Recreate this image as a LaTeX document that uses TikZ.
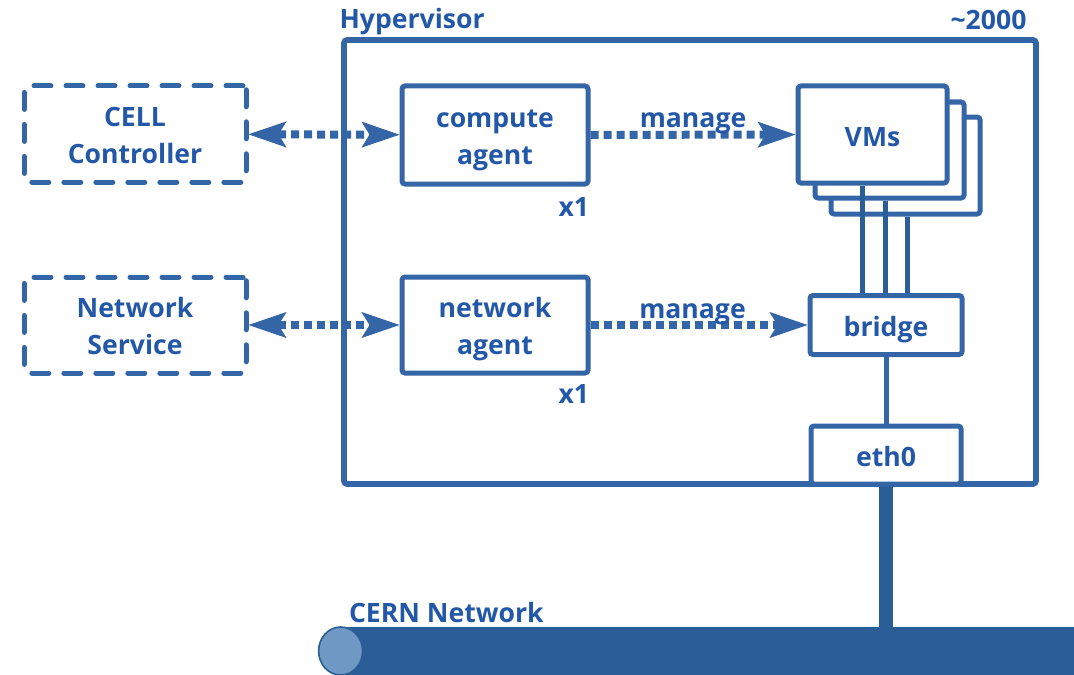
\documentclass[tikz,border=0pt]{standalone}
\usepackage{fontspec}
\setmainfont{Open Sans}
\usetikzlibrary{arrows.meta, positioning, calc}

\definecolor{boxblue}{HTML}{3465A6}
\definecolor{txtblue}{HTML}{2358A8}
\definecolor{netblue}{HTML}{2B5E96}
\definecolor{capblue}{HTML}{7098C4}

\begin{document}
\begin{tikzpicture}[
  x=0.5pt, y=-0.5pt,
  every node/.style={font=\fontsize{13.3}{18.4}\selectfont\bfseries, text=txtblue},
  box/.style={
    draw=boxblue,
    line width=2.5pt,
    rounded corners=1.5pt,
    fill=white,
    align=center,
    inner sep=0pt,
    text height=13.3pt,
    text depth=1.6pt
  },
  twoline/.style={text height=32.5pt, text depth=3.5pt},
  remote/.style={
    box,
    dash pattern=on 8.5pt off 7.5pt,
    line cap=round
  },
  lbl/.style={inner sep=0pt},
  link/.style={
    draw=boxblue,
    line width=4pt,
    dash pattern=on 4pt off 2.5pt
  },
  wire/.style={draw=netblue, line width=2.5pt},
  >={Stealth[length=19pt, width=13pt, inset=4pt, line width=0.5pt]}
]

\useasboundingbox (0,0) rectangle (1074,674);

% ------------------------------------------------------------
% Hypervisor frame
% ------------------------------------------------------------

\node[box, fill=none, line width=2.8pt, minimum width=346pt, minimum height=222pt] (hyper) at (690,262) {};
\node[lbl, anchor=base west] (hyperlbl) at ([xshift=-1pt, yshift=4.5pt]hyper.north west) {Hypervisor};
\node[lbl, anchor=base east] (count) at ([xshift=-6pt, yshift=4pt]hyper.north east) {\textasciitilde 2000};

% ------------------------------------------------------------
% Outside services
% ------------------------------------------------------------

\node[remote, twoline, minimum width=111pt, minimum height=48pt] (cell) at (135,134) {CELL\\Controller};
\node[remote, twoline, minimum width=111pt, minimum height=48pt] (netsvc) at (135,325) {Network\\Service};

% ------------------------------------------------------------
% Agents
% ------------------------------------------------------------

\node[box, twoline, minimum width=93pt, minimum height=49pt] (compute) at (495,135) {compute\\agent};
\node[box, twoline, minimum width=93pt, minimum height=48pt] (netagent) at (495,325) {network\\agent};
\node[lbl, anchor=base east] (cx) at ([xshift=-0.5pt, yshift=-15pt]compute.south east) {x1};
\node[lbl, anchor=base east] (nx) at ([xshift=-0.5pt, yshift=-14pt]netagent.south east) {x1};

% ------------------------------------------------------------
% VMs, bridge and eth0
% ------------------------------------------------------------

\node[box, minimum width=74.5pt, minimum height=48.5pt] (vm3) at (905.5,165.5) {};
\node[box, minimum width=74.5pt, minimum height=48pt] (vm2) at (889.5,150) {};
\node[box, minimum width=74.5pt, minimum height=48.5pt] (vm) at (872.5,134.5) {VMs};

\node[box, minimum width=76pt, minimum height=29.5pt] (bridge) at (886,325) {bridge};
\node[box, minimum width=75pt, minimum height=29pt] (eth0) at (886,455) {eth0};

\coordinate (v1) at ([xshift=-5.25pt]vm.south);
\coordinate (v2) at ([xshift=-2.25pt]vm2.south);
\coordinate (v3) at ([xshift=0.75pt]vm3.south);
\draw[wire] (v1) -- (v1 |- bridge.north);
\draw[wire] (v2) -- (v2 |- bridge.north);
\draw[wire] (v3) -- (v3 |- bridge.north);
\draw[wire, draw=boxblue] (bridge) -- (eth0);

% ------------------------------------------------------------
% CERN network
% ------------------------------------------------------------

\node[fill=netblue, inner sep=0pt, minimum width=379.5pt, minimum height=24pt] (cern) at (720.5,651) {};
\fill[capblue, draw=netblue, line width=0.8pt] (cern.west) ellipse (11pt and 12pt);
\node[lbl, anchor=base west] (cernlbl) at ([xshift=4pt, yshift=2pt]cern.north west) {CERN Network};
\draw[netblue, line width=7pt] (eth0.south) -- (eth0.south |- cern.north);

% ------------------------------------------------------------
% Control links
% ------------------------------------------------------------

\draw[link, <->] (cell) -- (compute);
\draw[link, <->] (netsvc) -- (netagent);
\draw[link, ->] (compute) -- node[lbl, anchor=base, yshift=3.5pt] (m1) {manage} (vm);
\draw[link, ->] (netagent) -- node[lbl, anchor=base, yshift=3.5pt, pos=0.47] (m2) {manage} (bridge);

\end{tikzpicture}
\end{document}
